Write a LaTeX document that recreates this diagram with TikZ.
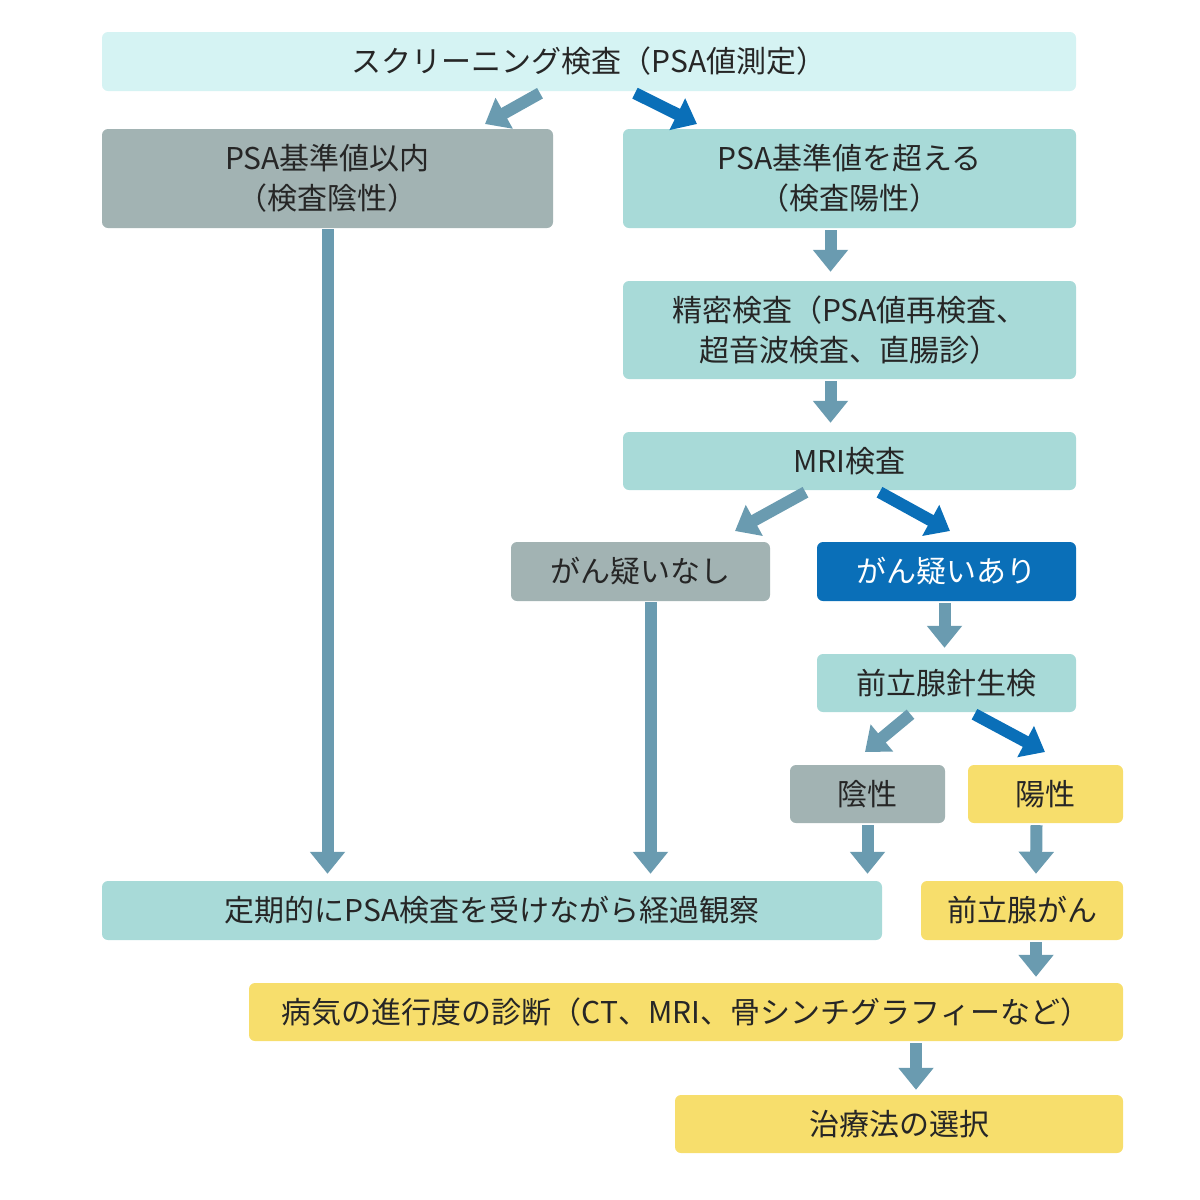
\documentclass[tikz,border=0pt]{standalone}
\usepackage{fontspec}
\setmainfont{Noto Sans CJK JP}
\usetikzlibrary{positioning, arrows.meta}
\definecolor{pale}{HTML}{D5F3F3}
\definecolor{teal}{HTML}{A8DAD8}
\definecolor{grayb}{HTML}{A2B3B3}
\definecolor{blueb}{HTML}{0A6FB8}
\definecolor{yell}{HTML}{F7DE6C}
\definecolor{steel}{HTML}{6A9BB0}

\begin{document}
\begin{tikzpicture}[x=1pt, y=-1pt,
          bx/.style={rectangle, rounded corners=6pt, inner sep=0pt, align=center,
            font=\fontsize{30}{40}\selectfont, text=black!85},
          tl/.style={bx, fill=teal},
          gy/.style={bx, fill=grayb},
          yl/.style={bx, fill=yell},
          bl/.style={bx, fill=blueb, text=white},
          ar/.style={-{Triangle[length=22pt, width=34pt]}, line width=12pt, draw=steel},
          ab/.style={ar, draw=blueb}]
        \useasboundingbox (0,0) rectangle (1200,1200);
        % boxes
        \node[bx, fill=pale, minimum width=974pt, minimum height=59pt] (scr) at (589,61.5) {スクリーニング検査（PSA値測定）};
        \node[gy, minimum width=451pt, minimum height=99pt] (neg) at (327.5,178.5) {PSA基準値以内\\（検査陰性）};
        \node[tl, minimum width=453pt, minimum height=99pt] (pos) at (849.5,178.5) {PSA基準値を超える\\（検査陽性）};
        \node[tl, minimum width=453pt, minimum height=98pt] (prec) at (849.5,330) {精密検査（PSA値再検査、\\超音波検査、直腸診）};
        \node[tl, minimum width=453pt, minimum height=58pt] (mri) at (849.5,461) {MRI検査};
        \node[gy, minimum width=259pt, minimum height=59pt] (nosus) at (640.5,571.5) {がん疑いなし};
        \node[bl, minimum width=259pt, minimum height=59pt] (sus) at (946.5,571.5) {がん疑いあり};
        \node[tl, minimum width=259pt, minimum height=58pt] (bio) at (946.5,683) {前立腺針生検};
        \node[gy, minimum width=155pt, minimum height=58pt] (bneg) at (867.5,794) {陰性};
        \node[yl, minimum width=155pt, minimum height=58pt] (bpos) at (1045.5,794) {陽性};
        \node[tl, minimum width=780pt, minimum height=59pt] (watch) at (492,910.5) {定期的にPSA検査を受けながら経過観察};
        \node[yl, minimum width=202pt, minimum height=59pt] (canc) at (1022,910.5) {前立腺がん};
        \node[yl, minimum width=874pt, minimum height=58pt] (stage) at (686,1012) {病気の進行度の診断（CT、MRI、骨シンチグラフィーなど）};
        \node[yl, minimum width=448pt, minimum height=58pt] (treat) at (899,1124) {治療法の選択};
        % arrow ends
        \coordinate (e1) at (485,124);
        \coordinate (e2) at (697,124);
        \coordinate (e3) at (735,531);
        \coordinate (e4) at (950,531);
        \coordinate (e5) at (865,752);
        \coordinate (e6) at (1045,752);
        % connectors
        \draw[ar] ([xshift=-49pt, yshift=-2pt]scr.south) -- (e1);
        \draw[ab] ([xshift=46pt, yshift=-2pt]scr.south) -- (e2);
        \draw[ar] ([yshift=-1pt]neg.south) -- ([yshift=7pt]neg.south |- watch.north);
        \draw[ar] ([xshift=-19pt, yshift=-2pt]pos.south) -- ([xshift=-19pt, yshift=9pt]prec.north);
        \draw[ar] ([xshift=-19pt, yshift=-2pt]prec.south) -- ([xshift=-19pt, yshift=9pt]mri.north);
        \draw[ar] ([xshift=-44pt, yshift=-2pt]mri.south) -- (e3);
        \draw[ab] ([xshift=30pt, yshift=-2pt]mri.south) -- (e4);
        \draw[ar] ([xshift=10pt, yshift=-1pt]nosus.south) -- ([xshift=10pt, yshift=7pt]nosus.south |- watch.north);
        \draw[ar] ([xshift=-2pt, yshift=-2pt]sus.south) -- ([xshift=-2pt, yshift=6pt]bio.north);
        \draw[ar] ([xshift=-36pt, yshift=-2pt]bio.south) -- (e5);
        \draw[ab] ([xshift=28pt, yshift=-2pt]bio.south) -- (e6);
        \draw[ar] ([yshift=-2pt]bneg.south) -- ([yshift=7pt]bneg.south |- watch.north);
        \draw[ar] ([xshift=-9pt, yshift=-2pt]bpos.south) -- ([xshift=14pt, yshift=7pt]canc.north);
        \draw[ar] ([xshift=14pt, yshift=-2pt]canc.south) -- ([xshift=350pt, yshift=6pt]stage.north);
        \draw[ar] ([xshift=17pt, yshift=-2pt]treat.north |- stage.south) -- ([xshift=17pt, yshift=5pt]treat.north);
      \end{tikzpicture}
\end{document}
